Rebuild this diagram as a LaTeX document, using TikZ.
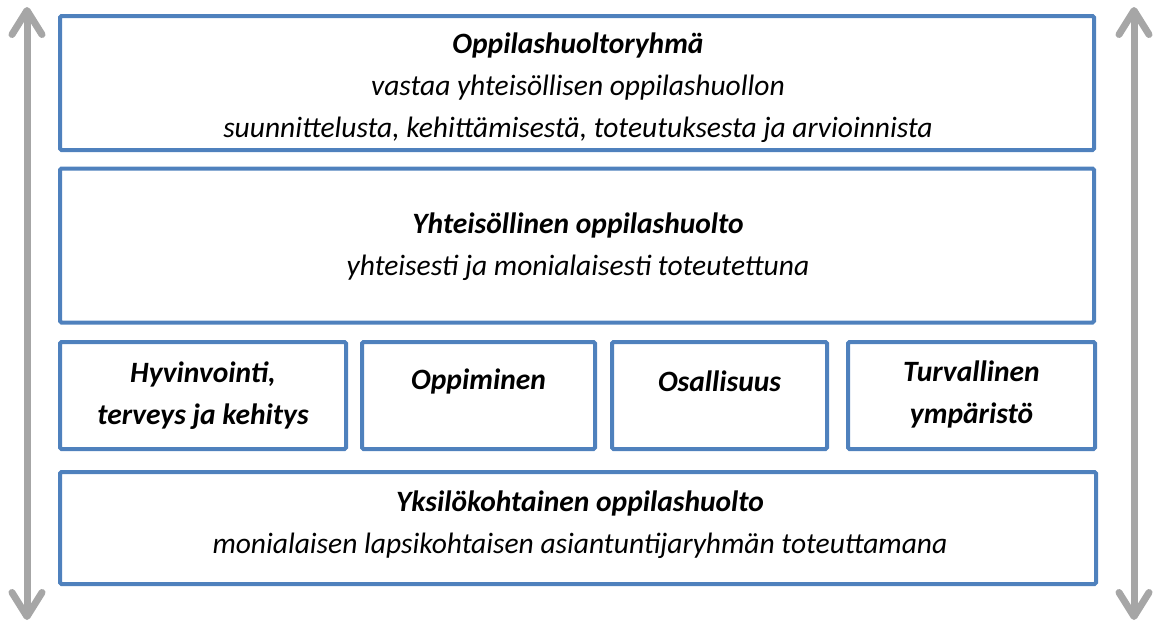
\documentclass[tikz,border=0pt]{standalone}
\usepackage{fontspec}
\setmainfont{Carlito}
\usepackage{tikz}
\usetikzlibrary{arrows.meta}
\definecolor{ohblue}{HTML}{4F81BD}
\definecolor{ohgray}{HTML}{A6A6A6}

\begin{document}
\begin{tikzpicture}[x=1pt, y=-1pt,
		ohbox/.style={draw=ohblue, line width=4pt, rounded corners=1.5pt, inner sep=0pt},
		ohtext/.style={align=center, inner sep=0pt, font=\fontsize{29.5}{42}\selectfont\itshape},
		ohbold/.style={ohtext, font=\fontsize{29.5}{42}\selectfont\bfseries\itshape},
		ohaxis/.style={ohgray, line width=7pt, {Straight Barb[round, length=24pt, width=30pt]}-{Straight Barb[round, length=24pt, width=30pt]}}]
			\useasboundingbox (0,0) rectangle (1157,624);
			\node[ohbox, minimum width=1034pt, minimum height=134pt] (ryhma) at (577,83) {};
			\node[ohbox, minimum width=1034pt, minimum height=154pt] (yhteiso) at (577,245.5) {};
			\node[ohbox, minimum width=286pt, minimum height=107pt] (hyvin) at (203,395.5) {};
			\node[ohbox, minimum width=233pt, minimum height=107pt] (oppi) at (478.5,395.5) {};
			\node[ohbox, minimum width=215pt, minimum height=107pt] (osall) at (719.5,395.5) {};
			\node[ohbox, minimum width=247pt, minimum height=107pt] (turva) at (971.5,395.5) {};
			\node[ohbox, minimum width=1036pt, minimum height=112pt] (yksilo) at (578,528) {};
			\node[ohtext] (ryhmateksti) at (578,88) {\textbf{Oppilashuoltoryhmä}\\vastaa yhteisöllisen oppilashuollon\\suunnittelusta, kehittämisestä, toteutuksesta ja arvioinnista};
			\node[ohtext] (yhteisoteksti) at (578,247) {\textbf{Yhteisöllinen oppilashuolto}\\yhteisesti ja monialaisesti toteutettuna};
			\node[ohbold] (hyvinteksti) at (203,396) {Hyvinvointi,\\terveys ja kehitys};
			\node[ohbold] (oppiteksti) at (478.5,381) {Oppiminen};
			\node[ohbold] (osallteksti) at (719.5,381) {Osallisuus};
			\node[ohbold] (turvateksti) at (971.5,394) {Turvallinen\\ympäristö};
			\node[ohtext] (yksiloteksti) at (580,525) {\textbf{Yksilökohtainen oppilashuolto}\\monialaisen lapsikohtaisen asiantuntijaryhmän toteuttamana};
			\coordinate (vasenyla) at (27,7);
			\coordinate (vasenala) at (27,620);
			\coordinate (oikeayla) at (1134,7);
			\coordinate (oikeaala) at (1134,620);
			\draw[ohaxis] (vasenala) -- (vasenyla);
			\draw[ohaxis] (oikeaala) -- (oikeayla);
		\end{tikzpicture}
\end{document}
